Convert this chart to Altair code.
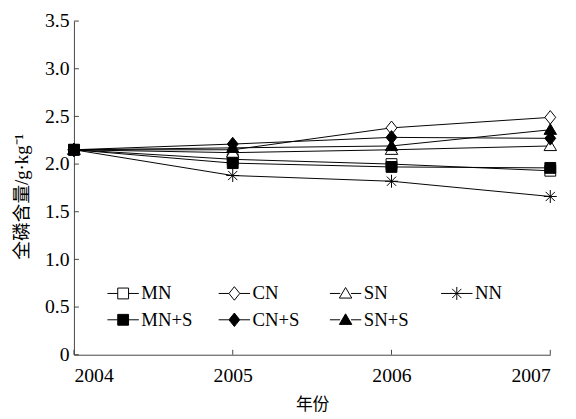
import altair as alt
import pandas as pd

years = [2004, 2005, 2006, 2007]
series = ["MN", "CN", "SN", "NN", "MN+S", "CN+S", "SN+S"]
mn = [2.15, 2.05, 2.00, 1.93]
cn = [2.15, 2.15, 2.38, 2.49]
sn = [2.15, 2.12, 2.15, 2.19]
nn = [2.15, 1.88, 1.82, 1.66]
mn_s = [2.15, 2.01, 1.97, 1.96]
cn_s = [2.15, 2.21, 2.28, 2.27]
sn_s = [2.15, 2.17, 2.19, 2.36]
all_vals = [mn, cn, sn, nn, mn_s, cn_s, sn_s]
y_ticks = [0, 0.5, 1.0, 1.5, 2.0, 2.5, 3.0, 3.5]

rows = []
for name, vals in zip(series, all_vals):
    for yr, v in zip(years, vals):
        rows.append({"year": yr, "value": v, "s": name})
df = pd.DataFrame(rows)

SERIF = "'Liberation Serif', 'Noto Sans CJK SC', serif"

sq = "M-1,-1H1V1H-1Z"
di = "M0,-1.25L1,0L0,1.25L-1,0Z"
tr = "M0,-1.1L1.15,0.85H-1.15Z"
ast = "M-1.2,0H1.2M0,-1.2V1.2M-0.85,-0.85L0.85,0.85M-0.85,0.85L0.85,-0.85"
plot_shapes = [sq, di, tr, ast, sq, di, tr]
stub = "M-2.9,0H-1M1,0H2.9"
legend_shapes = [stub + p for p in plot_shapes]
fills = ["white", "white", "white", "black", "black", "black", "black"]

x_enc = alt.X("year:Q", scale=alt.Scale(domain=[2004, 2007], nice=False),
              axis=alt.Axis(values=years, format="d", title="年份", labelPadding=11,
                            titleFontSize=17, titleY=51, titleBaseline="middle"))
y_enc = alt.Y("value:Q", scale=alt.Scale(domain=[0, 3.5], nice=False),
              axis=alt.Axis(values=y_ticks,
                            labelExpr="datum.value == 0 ? '0' : format(datum.value, '.1f')",
                            labelPadding=5,
                            title="全磷含量/g·kg⁻¹", titleFontSize=19,
                            titleX=-53, titleY=178, titleAngle=270,
                            titleAlign="center", titleBaseline="middle"))

base = alt.Chart(df)
lines = base.mark_line(color="black", strokeWidth=1).encode(x=x_enc, y=y_enc, detail="s:N")

point_layers = []
for name, shp, fl in zip(series, plot_shapes, fills):
    point_layers.append(
        base.transform_filter(alt.datum.s == name).mark_point(
            shape=shp, size=121, filled=True, fill=fl, stroke="black",
            strokeWidth=1, opacity=1).encode(x="year:Q", y="value:Q"))

leg = alt.Legend(title=None, orient="none", legendX=40.5, legendY=267, columns=4,
                 direction="horizontal", gridAlign="all", columnPadding=24,
                 rowPadding=7, padding=0,
                 labelFont=SERIF, labelFontSize=19, labelColor="black", labelOffset=9,
                 symbolSize=121, symbolStrokeWidth=1, symbolOpacity=1)
legend_layer = base.transform_filter("false").mark_point(
    filled=False, size=121, strokeWidth=1).encode(
    x="year:Q", y="value:Q",
    shape=alt.Shape("s:N", scale=alt.Scale(domain=series, range=legend_shapes), legend=leg),
    fill=alt.Fill("s:N", scale=alt.Scale(domain=series, range=fills), legend=leg),
    stroke=alt.Stroke("s:N", scale=alt.Scale(domain=series, range=["black"] * 7), legend=leg),
)

ytick_df = pd.DataFrame({"v": y_ticks, "x0": [years[0]] * len(y_ticks)})
yticks = alt.Chart(ytick_df).mark_rule(color="#444", strokeWidth=1, x2Offset=5).encode(
    y="v:Q", x="x0:Q", x2="x0:Q")
xtick_df = pd.DataFrame({"yr": years, "y0": [0] * len(years)})
xticks = alt.Chart(xtick_df).mark_rule(color="#444", strokeWidth=1, y2Offset=-5).encode(
    x="yr:Q", y="y0:Q", y2="y0:Q")

chart = alt.layer(lines, *point_layers, legend_layer, yticks, xticks).properties(
    width=484, height=339,
    autosize=alt.AutoSizeParams(type="none"),
    padding={"left": 67, "top": 10, "right": 18, "bottom": 62},
).configure_view(stroke=None).configure_axis(
    labelFont=SERIF, labelFontSize=20, labelColor="black",
    labelFontWeight="normal",
    titleFont=SERIF, titleFontWeight="normal", titleColor="black",
    ticks=False, grid=False, domainColor="#444",
)

chart.save("out.html", embed_options={"renderer": "svg", "actions": False})
